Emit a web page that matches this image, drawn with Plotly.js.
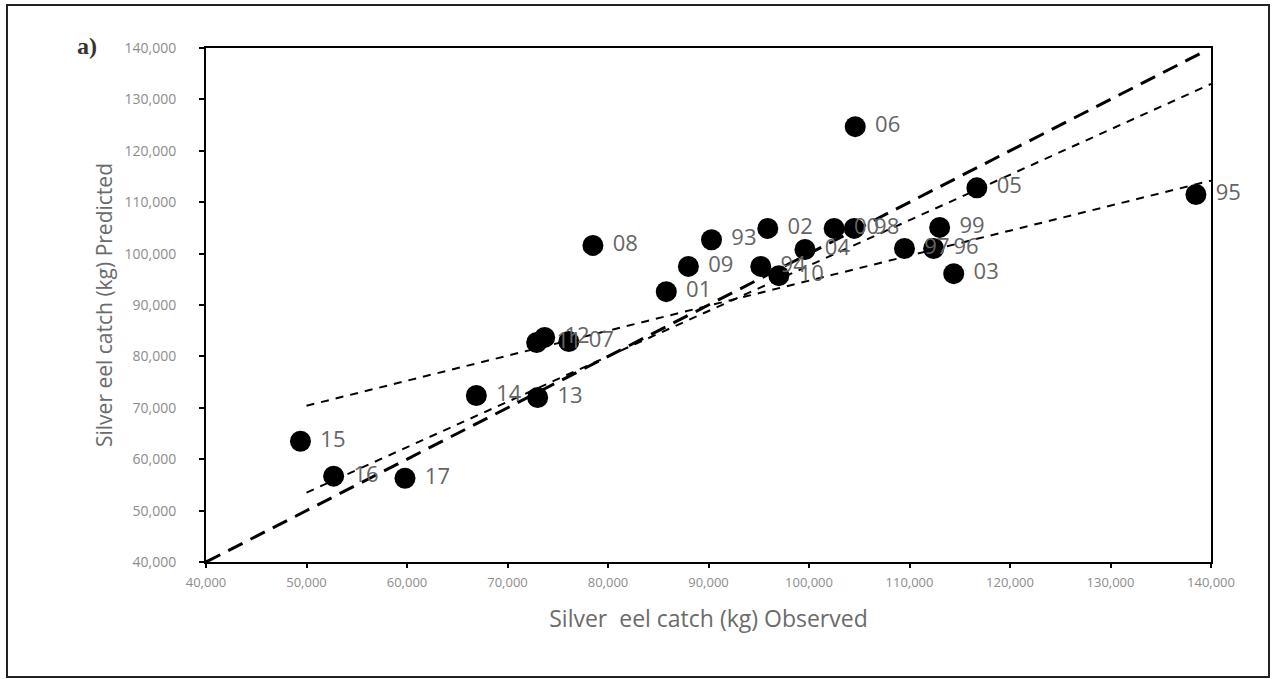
<!DOCTYPE html>
<html>
<head>
<meta charset="utf-8">
<script src="https://cdn.plot.ly/plotly-3.0.1.min.js"></script>
<style>
  html, body { margin: 0; padding: 0; background: #ffffff; }
  #chart { width: 1272px; height: 679px; }
</style>
</head>
<body>
<div id="chart"></div>
<script>
// Year labels (two-digit) for each point
const years = ['93','94','95','96','97','98','99','00','01','02','03','04','05','06','07','08','09','10','11','12','13','14','15','16','17'];
// Observed silver eel catch (kg)
const observed = [90300, 95200, 138500, 112400, 109500, 104500, 113000, 102500, 85800, 95900, 114400, 99600, 116700, 104600, 76100, 78500, 88000, 97000, 72900, 73700, 73000, 66900, 49400, 52700, 59800];
// Predicted silver eel catch (kg)
const predicted = [102700, 97500, 111500, 101000, 101000, 104900, 105100, 104900, 92600, 104900, 96100, 100800, 112800, 124700, 82900, 101600, 97500, 95700, 82700, 83700, 72000, 72400, 63500, 56700, 56300];

// Reference lines (end points)
const lineOneX = [40000, 139000];
const lineOneY = [40000, 139000];
const lineFitAX = [50000, 140000];
const lineFitAY = [70400, 114200];
const lineFitBX = [50000, 140000];
const lineFitBY = [53500, 133000];

const tickVals = [40000, 50000, 60000, 70000, 80000, 90000, 100000, 110000, 120000, 130000, 140000];

const traces = [
  {
    x: lineFitAX, y: lineFitAY, type: 'scatter', mode: 'lines',
    line: { color: '#000000', width: 2, dash: '8px,7px' }, hoverinfo: 'skip', showlegend: false
  },
  {
    x: lineFitBX, y: lineFitBY, type: 'scatter', mode: 'lines',
    line: { color: '#000000', width: 2, dash: '8px,7px' }, hoverinfo: 'skip', showlegend: false
  },
  {
    x: lineOneX, y: lineOneY, type: 'scatter', mode: 'lines',
    line: { color: '#000000', width: 3, dash: '16px,9px' }, hoverinfo: 'skip', showlegend: false
  },
  {
    x: observed, y: predicted, type: 'scatter', mode: 'markers+text',
    text: years.map(t => ' ' + t), textposition: 'middle right',
    textfont: { family: 'Open Sans, sans-serif', size: 22, color: '#656565' },
    marker: { color: '#000000', size: 21, line: { width: 0 } },
    cliponaxis: false, showlegend: false
  }
];

const layout = {
  width: 1272, height: 679,
  paper_bgcolor: '#ffffff', plot_bgcolor: '#ffffff',
  margin: { l: 206, r: 61, t: 48, b: 117, pad: 0 },
  showlegend: false,
  font: { family: 'Open Sans, sans-serif', color: '#7f7f7f' },
  xaxis: {
    range: [40000, 140000], tickvals: tickVals, tickformat: ',d',
    showgrid: false, zeroline: false,
    showline: true, linecolor: '#000000', linewidth: 2, mirror: true,
    ticks: 'outside', ticklen: 4, tickwidth: 2, tickcolor: '#000000',
    ticklabelstandoff: 3,
    tickfont: { family: 'Open Sans, sans-serif', size: 13, color: '#8c8c8c' },
    title: { text: 'Silver  eel catch (kg) Observed', standoff: 21,
             font: { family: 'Open Sans, sans-serif', size: 23, color: '#6b6b6b' } }
  },
  yaxis: {
    range: [40000, 140000], tickvals: tickVals, tickformat: ',d',
    showgrid: false, zeroline: false,
    showline: true, linecolor: '#000000', linewidth: 2, mirror: true,
    ticks: 'outside', ticklen: 5, tickwidth: 2, tickcolor: '#000000',
    ticklabelstandoff: 20,
    tickfont: { family: 'Open Sans, sans-serif', size: 14, color: '#8c8c8c' },
    title: { text: 'Silver eel catch (kg) Predicted', standoff: 6,
             font: { family: 'Open Sans, sans-serif', size: 21, color: '#6b6b6b' } }
  },
  shapes: [
    { type: 'rect', xref: 'paper', yref: 'paper',
      x0: (7 - 206) / 1005, x1: (1269 - 206) / 1005,
      y0: (562 - 677) / 514, y1: (562 - 5) / 514,
      line: { color: '#222222', width: 2 }, fillcolor: 'rgba(0,0,0,0)', layer: 'below' }
  ],
  annotations: [
    { text: '<b>a)</b>', xref: 'paper', yref: 'paper',
      x: (75 - 206) / 1005, y: (562 - 46) / 514, xanchor: 'left', yanchor: 'middle',
      showarrow: false, font: { family: 'Liberation Serif, serif', size: 24, color: '#333333' } }
  ]
};

Plotly.newPlot('chart', traces, layout, { displayModeBar: false, staticPlot: true });
</script>
</body>
</html>
